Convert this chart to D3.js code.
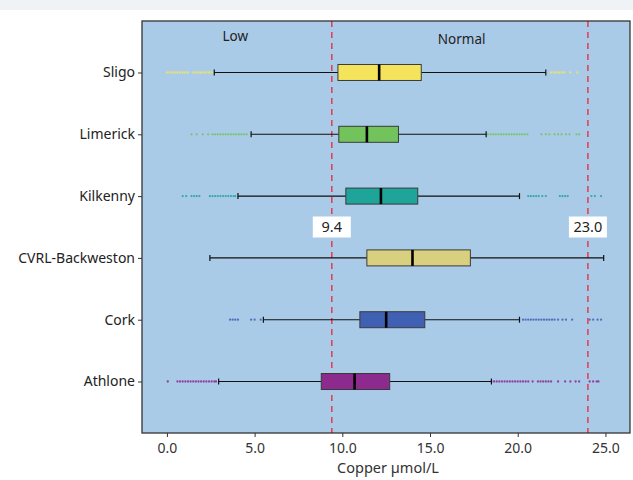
<!DOCTYPE html>
<html><head><meta charset="utf-8">
<script src="https://cdn.jsdelivr.net/npm/d3@7"></script>
<style>
body{margin:0;background:#fff;}
svg{display:block;font-family:"Open Sans","Noto Sans",sans-serif;}
</style></head>
<body>
<svg id="chart" width="633" height="480"></svg>
<script>
const categories = ["Sligo","Limerick","Kilkenny","CVRL-Backweston","Cork","Athlone"];
const colors = ["#f4e45c","#72c35c","#1fa49a","#d8d07e","#4060b4","#8c2a8e"];
const whiskerLow  = [2.7, 4.8, 4.05, 2.45, 5.5, 2.95];
const q1          = [9.75, 9.8, 10.2, 11.4, 11.0, 8.8];
const median      = [12.1, 11.4, 12.2, 14.0, 12.5, 10.7];
const q3          = [14.5, 13.2, 14.3, 17.3, 14.7, 12.7];
const whiskerHigh = [21.6, 18.2, 20.1, 24.9, 20.1, 18.5];
const outliers = [
  [0.0,0.15,0.3,0.45,0.6,0.75,0.9,1.05,1.2,1.5,1.65,1.8,1.95,2.1,2.25,2.4,2.55,
   21.9,22.05,22.2,22.35,22.5,22.65,23.0,23.4],
  [1.4,1.7,2.05,2.35,2.6,2.75,2.9,3.05,3.2,3.35,3.5,3.65,3.8,3.95,4.1,4.25,4.4,4.55,
   18.3,18.45,18.6,18.75,18.9,19.05,19.2,19.35,19.5,19.65,19.8,19.95,20.1,20.25,20.4,20.55,
   21.35,21.6,21.8,22.1,22.3,22.5,22.75,22.95,23.35,23.5],
  [0.9,1.1,1.4,1.55,1.7,1.85,2.45,2.6,2.75,2.9,3.05,3.2,3.35,3.5,3.65,3.8,3.9,
   20.6,20.75,20.9,21.05,21.2,21.4,21.6,22.4,22.55,22.7,22.85,24.2,24.4,24.75],
  [],
  [3.6,3.75,3.9,4.05,4.8,5.0,5.35,
   20.3,20.45,20.6,20.75,20.9,21.05,21.2,21.35,21.5,21.65,21.8,21.95,22.1,22.3,22.55,22.75,23.1,
   24.1,24.3,24.55,24.75],
  [0.05,0.6,0.75,0.9,1.05,1.2,1.35,1.5,1.65,1.8,1.95,2.1,2.25,2.4,2.55,2.7,2.8,
   18.5,18.65,18.8,18.95,19.1,19.25,19.4,19.55,19.7,19.85,20.0,20.15,20.3,20.45,20.6,20.85,
   21.15,21.3,21.45,21.6,21.75,21.9,22.3,22.7,23.0,23.3,23.5,24.1,24.3,24.5,24.6]
];
const xTicks = [0,5,10,15,20,25];
const refLines = [9.4, 24.0];
const refLabels = ["9.4","23.0"];
const zoneLabels = [{text:"Low", v:3.9}, {text:"Normal", v:16.8}];
const xTitle = "Copper µmol/L";

const svg = d3.select("#chart");
svg.append("rect").attr("x",0).attr("y",0).attr("width",633).attr("height",10).attr("fill","#f0f3f5");

const L=142, R=630, T=21, B=433;
const x = d3.scaleLinear().domain([-1.42, 26.4]).range([L, R]);
const y = d3.scalePoint().domain(categories).range([T, B]).padding(0.833);
const bh = 16;
const FONT = "'Noto Sans','Open Sans',sans-serif";

svg.append("rect").attr("x",L).attr("y",T).attr("width",R-L).attr("height",B-T).attr("fill","#aacbe8");

svg.selectAll(".ref").data(refLines).join("line")
  .attr("x1",d=>x(d)).attr("x2",d=>x(d)).attr("y1",T).attr("y2",B)
  .attr("stroke","#e8394f").attr("stroke-width",1.5).attr("stroke-dasharray","6,5");

svg.selectAll(".zone").data(zoneLabels).join("text")
  .attr("x",d=>x(d.v)).attr("text-anchor","middle")
  .attr("font-size",13.5).attr("font-family",FONT).attr("fill","#222").text(d=>d.text)
  .attr("y",(d,i)=>i===0?41:44);

const g = svg.selectAll(".row").data(categories).join("g")
  .attr("transform",d=>`translate(0,${y(d)})`);

g.each(function(d,i){
  d3.select(this).selectAll("circle").data(outliers[i]).join("circle")
    .attr("cx",v=>x(v)).attr("cy",0).attr("r",1.15).attr("fill",colors[i]).attr("opacity",0.85);
});
g.append("line").attr("x1",(d,i)=>x(whiskerLow[i])).attr("x2",(d,i)=>x(q1[i]))
  .attr("stroke","#111").attr("stroke-width",1.1);
g.append("line").attr("x1",(d,i)=>x(q3[i])).attr("x2",(d,i)=>x(whiskerHigh[i]))
  .attr("stroke","#111").attr("stroke-width",1.1);
g.append("line").attr("x1",(d,i)=>x(whiskerLow[i])).attr("x2",(d,i)=>x(whiskerLow[i]))
  .attr("y1",-3).attr("y2",3).attr("stroke","#111").attr("stroke-width",1.2);
g.append("line").attr("x1",(d,i)=>x(whiskerHigh[i])).attr("x2",(d,i)=>x(whiskerHigh[i]))
  .attr("y1",-3).attr("y2",3).attr("stroke","#111").attr("stroke-width",1.2);
g.append("rect").attr("x",(d,i)=>x(q1[i])).attr("width",(d,i)=>x(q3[i])-x(q1[i]))
  .attr("y",-bh/2).attr("height",bh).attr("fill",(d,i)=>colors[i])
  .attr("stroke","#3a3a3a").attr("stroke-width",1);
g.append("line").attr("x1",(d,i)=>x(median[i])).attr("x2",(d,i)=>x(median[i]))
  .attr("y1",-bh/2).attr("y2",bh/2).attr("stroke","#000").attr("stroke-width",2.6);

const rl = svg.selectAll(".rl").data(refLines).join("g")
  .attr("transform",d=>`translate(${x(d)},227)`);
rl.append("rect").attr("x",-19).attr("y",-10.5).attr("width",38).attr("height",21).attr("fill","#fff");
rl.append("text").attr("text-anchor","middle").attr("dy","0.36em").attr("font-size",14.5)
  .attr("font-family",FONT).attr("fill","#222").text((d,i)=>refLabels[i]);

svg.append("rect").attr("x",L).attr("y",T).attr("width",R-L).attr("height",B-T)
  .attr("fill","none").attr("stroke","#333").attr("stroke-width",1.3);

const xa = svg.append("g").attr("transform",`translate(0,${B})`)
  .call(d3.axisBottom(x).tickValues(xTicks).tickFormat(d3.format(".1f")).tickSize(4).tickSizeOuter(0));
xa.select(".domain").remove();
xa.selectAll("line").attr("stroke","#333");
xa.selectAll("text").attr("font-size",14).attr("fill","#333").attr("dy","0.9em")
  .attr("font-family",FONT);

const ya = svg.append("g").attr("transform",`translate(${L},0)`)
  .call(d3.axisLeft(y).tickSize(4).tickSizeOuter(0).tickPadding(3));
ya.select(".domain").remove();
ya.selectAll("line").attr("stroke","#333");
ya.selectAll("text").attr("font-size",14).attr("fill","#222")
  .attr("font-family",FONT);

svg.append("text").attr("x",388).attr("y",473).attr("text-anchor","middle")
  .attr("font-size",14.5).attr("font-family",FONT).attr("fill","#333").text(xTitle);
</script>
</body></html>
